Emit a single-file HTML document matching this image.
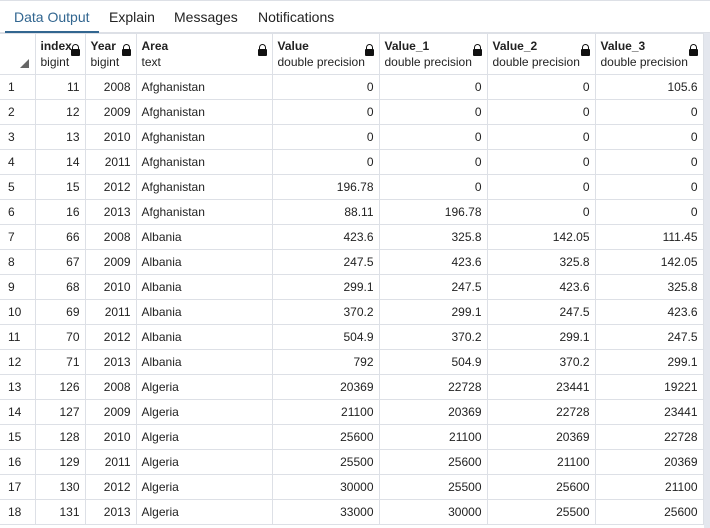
<!DOCTYPE html>
<html><head><meta charset="utf-8"><style>
body{margin:0;width:710px;height:528px;overflow:hidden;background:#fff;font-family:"Liberation Sans",sans-serif;position:relative}
.tabs{position:absolute;left:0;top:0;width:710px;height:33px;border-top:1px solid #dde0e6;border-bottom:1px solid #dde0e6;box-sizing:border-box}
.tab{position:absolute;top:8px;font-size:14px;color:#222}
.tab.active{color:#326690}
.ul{position:absolute;left:5px;top:30px;width:94px;height:3px;background:#326690}
table{position:absolute;left:0;top:33px;border-collapse:collapse;table-layout:fixed;font-size:12px;color:#222}
td,th{border:1px solid #dde0e6;padding:0 5px;height:24px;white-space:nowrap;overflow:hidden}
th{height:41px;text-align:left;vertical-align:top;font-weight:bold;position:relative;padding-top:5px;box-sizing:border-box}
th .t{display:block;font-weight:normal;margin-top:2px}
th .lock{position:absolute;right:5px;top:15px;width:9px;height:7px;background:#111;border-radius:1px}
th .lock:before{content:"";position:absolute;left:1px;top:-5px;width:5px;height:5px;border:1.5px solid #111;border-bottom:none;border-radius:4px 4px 0 0}
td{text-align:right}
td.l{text-align:left}
td.n{text-align:left;padding-left:8px}
tr td:first-child,tr th:first-child{border-left:none}
.sb{position:absolute;left:704px;top:33px;width:6px;height:495px;background:#e4e7ee}
.corner{position:absolute;left:20px;top:59px;width:0;height:0;border-left:9px solid transparent;border-bottom:9px solid #666}
</style></head><body>
<div class="tabs">
<span class="tab active" style="left:14px">Data Output</span>
<span class="tab" style="left:109px">Explain</span>
<span class="tab" style="left:174px">Messages</span>
<span class="tab" style="left:258px">Notifications</span>
<div class="ul"></div>
</div>
<table>
<colgroup><col style="width:35px"><col style="width:50px"><col style="width:51px"><col style="width:136px"><col style="width:107px"><col style="width:108px"><col style="width:108px"><col style="width:108px"></colgroup>
<tr>
<th></th>
<th>index<span class="t">bigint</span><span class="lock"></span></th>
<th>Year<span class="t">bigint</span><span class="lock"></span></th>
<th>Area<span class="t">text</span><span class="lock"></span></th>
<th>Value<span class="t">double precision</span><span class="lock"></span></th>
<th>Value_1<span class="t">double precision</span><span class="lock"></span></th>
<th>Value_2<span class="t">double precision</span><span class="lock"></span></th>
<th>Value_3<span class="t">double precision</span><span class="lock"></span></th>
</tr>
<tbody id="body"></tbody>
</table>
<div class="corner"></div>
<div class="sb"></div>
<script>
const rows=[
[11,2008,"Afghanistan","0","0","0","105.6"],
[12,2009,"Afghanistan","0","0","0","0"],
[13,2010,"Afghanistan","0","0","0","0"],
[14,2011,"Afghanistan","0","0","0","0"],
[15,2012,"Afghanistan","196.78","0","0","0"],
[16,2013,"Afghanistan","88.11","196.78","0","0"],
[66,2008,"Albania","423.6","325.8","142.05","111.45"],
[67,2009,"Albania","247.5","423.6","325.8","142.05"],
[68,2010,"Albania","299.1","247.5","423.6","325.8"],
[69,2011,"Albania","370.2","299.1","247.5","423.6"],
[70,2012,"Albania","504.9","370.2","299.1","247.5"],
[71,2013,"Albania","792","504.9","370.2","299.1"],
[126,2008,"Algeria","20369","22728","23441","19221"],
[127,2009,"Algeria","21100","20369","22728","23441"],
[128,2010,"Algeria","25600","21100","20369","22728"],
[129,2011,"Algeria","25500","25600","21100","20369"],
[130,2012,"Algeria","30000","25500","25600","21100"],
[131,2013,"Algeria","33000","30000","25500","25600"]];
const b=document.getElementById('body');
rows.forEach((r,i)=>{
const tr=document.createElement('tr');


const cells=[i+1,...r];
cells.forEach((v,j)=>{
const td=document.createElement('td');


if(j===0)td.className='n';
if(j===3)td.className='l';
td.textContent=v;tr.appendChild(td);});
b.appendChild(tr);});
</script>
</body></html>
